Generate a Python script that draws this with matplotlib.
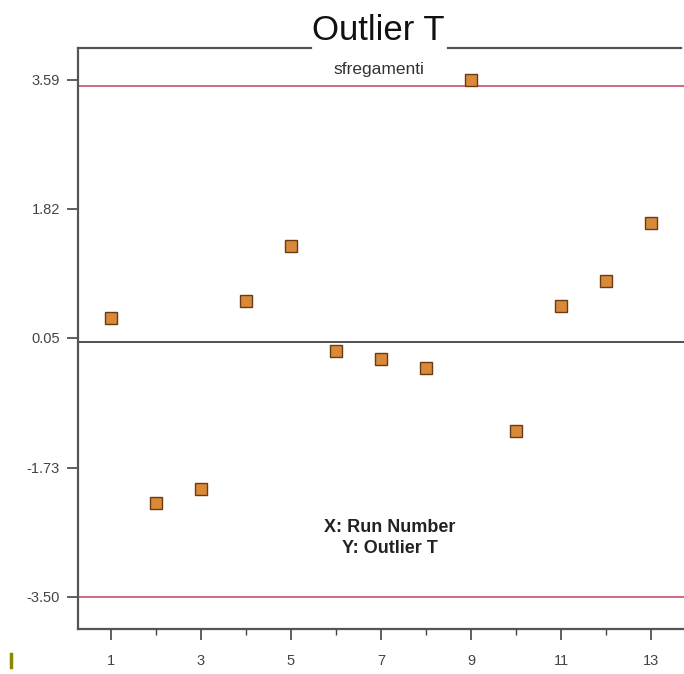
import numpy as np
import matplotlib.pyplot as plt
from matplotlib.lines import Line2D

plt.rcParams['font.family'] = ['Liberation Sans', 'DejaVu Sans']

# data
run_number = [1, 2, 3, 4, 5, 6, 7, 8, 9, 10, 11, 12, 13]
outlier_t = [0.33, -2.21, -2.02, 0.56, 1.31, -0.13, -0.24, -0.36, 3.59,
             -1.22, 0.49, 0.83, 1.63]
y_ticks = [3.59, 1.82, 0.05, -1.73, -3.50]
y_tick_labels = ["3.59", "1.82", "0.05", "-1.73", "-3.50"]
x_ticks = [1, 3, 5, 7, 9, 11, 13]
limit_hi = 3.5
limit_lo = -3.5
center = 0.0

fig = plt.figure(figsize=(6.84, 6.74), dpi=100)
ax = fig.add_axes([0.114, 0.067, 0.886, 0.862])

ax.axhline(limit_hi, color="#c8506a", lw=1.2, zorder=1)
ax.axhline(limit_lo, color="#c8506a", lw=1.2, zorder=1)
ax.axhline(center, color="#333333", lw=1.2, zorder=1)

ax.plot(run_number, outlier_t, linestyle="none", marker="s", markersize=9,
        markerfacecolor="#d9893a", markeredgecolor="#6b3a10",
        markeredgewidth=1.0, zorder=3)

ax.set_xlim(0.27, 13.73)
ax.set_ylim(-3.94, 4.03)

ax.set_xticks(x_ticks)
ax.set_xticks([2, 4, 6, 8, 10, 12], minor=True)
ax.set_yticks(y_ticks)
ax.set_yticklabels(y_tick_labels)

ax.tick_params(axis="both", which="major", direction="out", length=8,
               width=1.2, color="#444444", labelcolor="#444444",
               labelsize=10.5, pad=5)
ax.tick_params(axis="x", which="minor", direction="out", length=4.5,
               width=1.0, color="#444444")
ax.tick_params(axis="x", which="major", pad=10)

for side in ["top", "right"]:
    ax.spines[side].set_visible(False)
for side in ["left", "bottom"]:
    ax.spines[side].set_color("#555555")
    ax.spines[side].set_linewidth(1.6)

# top border broken by the title
fig.add_artist(Line2D([0.114, 0.455], [0.929, 0.929], color="#555555", lw=1.6))
fig.add_artist(Line2D([0.655, 0.996], [0.929, 0.929], color="#555555", lw=1.6))

fig.text(0.553, 0.955, "Outlier T", ha="center", va="center",
         fontsize=25, color="#111111")
ax.text(0.497, 0.963, "sfregamenti", transform=ax.transAxes, ha="center",
        va="center", fontsize=12.5, color="#333333")
ax.text(0.515, 0.157, "X: Run Number\nY: Outlier T", transform=ax.transAxes,
        ha="center", va="center", fontsize=13, fontweight="bold",
        color="#222222", linespacing=1.3)

fig.add_artist(Line2D([0.016, 0.016], [0.011, 0.03], color="#8a8a00", lw=2.5))

fig.savefig("out.png", dpi=100)
